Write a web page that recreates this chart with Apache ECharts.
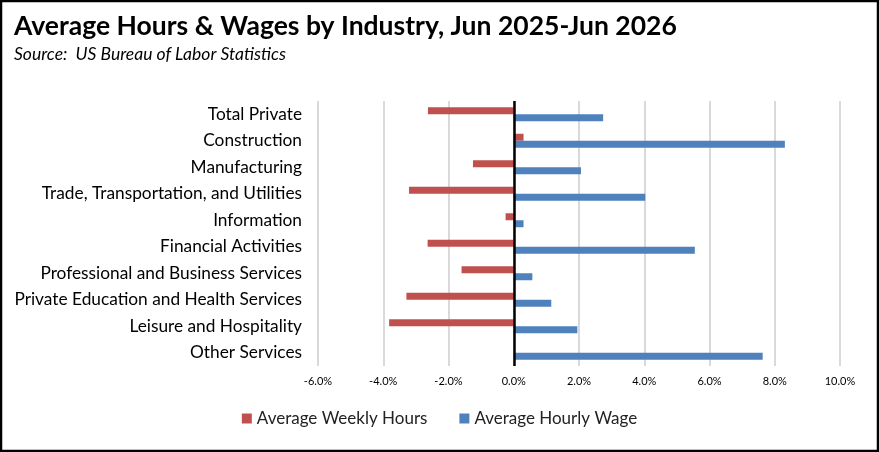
<!DOCTYPE html>
<html>
<head>
<meta charset="utf-8">
<script src="https://cdn.jsdelivr.net/npm/echarts@6/dist/echarts.min.js"></script>
<style>
  html, body { margin: 0; padding: 0; background: #fff; }
  #chart { width: 879px; height: 452px; }
</style>
</head>
<body>
<div id="chart"></div>
<script>
const industries = [
  'Total Private',
  'Construction',
  'Manufacturing',
  'Trade, Transportation, and Utilities',
  'Information',
  'Financial Activities',
  'Professional and Business Services',
  'Private Education and Health Services',
  'Leisure and Hospitality',
  'Other Services'
]
const weeklyHours = [-2.63, 0.3, -1.25, -3.21, -0.25, -2.64, -1.6, -3.29, -3.82, 0]
const hourlyWage = [2.74, 8.31, 2.06, 4.03, 0.3, 5.55, 0.57, 1.15, 1.95, 7.63]
const xMin = -6, xMax = 10, xStep = 2

var chartDom = document.getElementById('chart');
var myChart = echarts.init(chartDom);
var font = 'Lato';

var option = {
  animation: false,
  textStyle: { fontFamily: font },
  title: {
    text: 'Average Hours & Wages by Industry, Jun 2025-Jun 2026',
    subtext: 'Source:  US Bureau of Labor Statistics',
    left: 9,
    top: 8,
    itemGap: 5,
    textStyle: { fontFamily: font, fontSize: 26.5, fontWeight: 'bold', color: '#000' },
    subtextStyle: { fontFamily: font, fontSize: 17.5, fontStyle: 'italic', color: '#000' }
  },
  legend: {
    bottom: 20,
    left: 'center',
    icon: 'rect',
    itemWidth: 10,
    itemHeight: 10,
    itemGap: 32,
    textStyle: { fontFamily: font, fontSize: 17, color: '#222' },
    data: ['Average Weekly Hours', 'Average Hourly Wage']
  },
  grid: { left: 318, right: 39, top: 101, bottom: 86 },
  xAxis: {
    type: 'value',
    min: xMin,
    max: xMax,
    interval: xStep,
    axisLine: { show: false },
    axisTick: { show: false },
    splitLine: { lineStyle: { color: '#d9d9d9', width: 2 } },
    axisLabel: {
      color: '#000',
      fontSize: 11,
      margin: 10,
      formatter: function (v) { return v.toFixed(1) + '%' }
    }
  },
  yAxis: {
    type: 'category',
    inverse: true,
    data: industries,
    axisLine: { show: false },
    axisTick: { show: false },
    axisLabel: { color: '#000', fontSize: 17.3, margin: 16 }
  },
  series: [
    {
      name: 'Average Weekly Hours',
      type: 'bar',
      data: weeklyHours,
      barWidth: 7,
      barGap: '0%',
      itemStyle: { color: '#C0504D' },
      markLine: {
        silent: true,
        symbol: 'none',
        label: { show: false },
        lineStyle: { color: '#000', width: 2.5, type: 'solid' },
        data: [{ xAxis: 0 }]
      }
    },
    {
      name: 'Average Hourly Wage',
      type: 'bar',
      data: hourlyWage,
      barWidth: 7,
      barGap: '0%',
      itemStyle: { color: '#4F81BD' }
    }
  ],
  graphic: [
    {
      type: 'rect',
      shape: { x: 1, y: 1, width: 877, height: 450 },
      style: { fill: 'none', stroke: '#000', lineWidth: 2.5 },
      silent: true
    }
  ]
};

option && myChart.setOption(option);
</script>
</body>
</html>
